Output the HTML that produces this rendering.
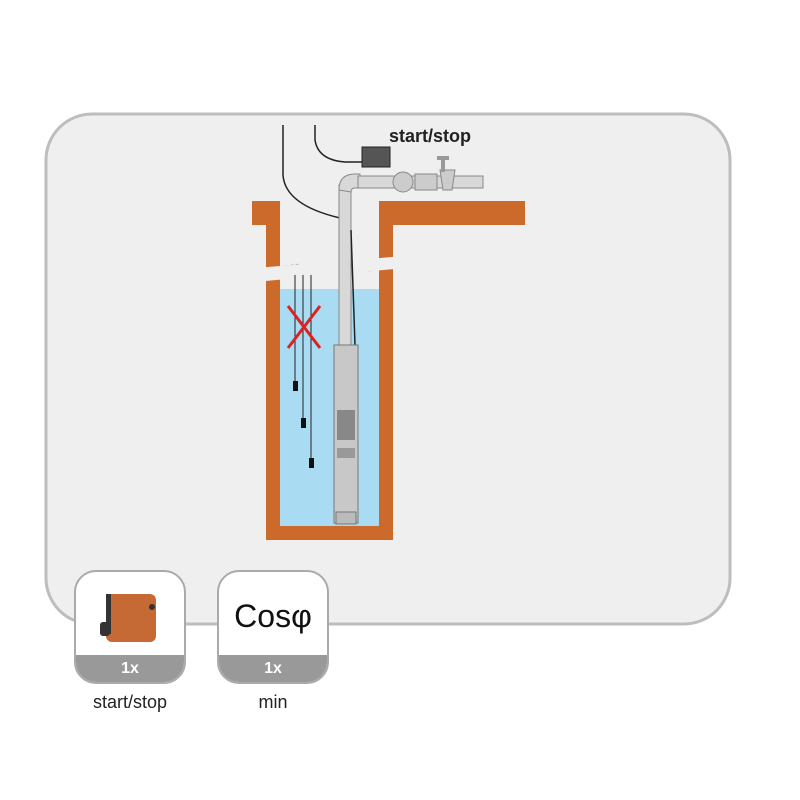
<!DOCTYPE html>
<html><head><style>
body{margin:0;width:800px;height:800px;background:#fff;font-family:"Liberation Sans",sans-serif;position:relative;overflow:hidden}
.card{position:absolute;width:108px;height:110px;border:2px solid #aaa;border-radius:22px;background:#fff;overflow:hidden;top:570px}
.band{position:absolute;left:0;right:0;bottom:0;height:27px;background:#999;color:#fff;font-weight:bold;font-size:16px;text-align:center;line-height:27px}
.lbl{position:absolute;top:692px;font-size:18px;color:#222;text-align:center;width:120px}
</style></head><body>
<svg width="800" height="800" style="position:absolute;left:0;top:0">
<rect x="46" y="114" width="684" height="510" rx="46" fill="#efefef" stroke="#bdbdbd" stroke-width="3"/>
<!-- cables -->
<path d="M283 125 V175 Q285 205 340 218" fill="none" stroke="#222" stroke-width="1.5"/>
<path d="M315 125 V140 Q318 160 345 162 H362" fill="none" stroke="#222" stroke-width="1.5"/>
<!-- water -->
<rect x="280" y="289" width="99" height="237" fill="#a9dcf2"/>
<!-- walls -->
<path d="M252 201 H280 V526 H379 V201 H525 V225 H393 V540 H266 V225 H252 Z" fill="#cc6a2c"/>
<!-- break lines -->
<path d="M256 270 L300 264 M256 276 L300 270 M330 266 L365 261 M330 271 L365 266 M368 265 L405 260 M368 271 L405 266" stroke="#aaa" stroke-width="1" stroke-dasharray="3,2"/>
<polygon points="255,268 405,256 405,268 255,282" fill="#efefef"/>
<!-- float cables -->
<line x1="295" y1="275" x2="295" y2="385" stroke="#222"/>
<line x1="303" y1="275" x2="303" y2="422" stroke="#222"/>
<line x1="311" y1="275" x2="311" y2="462" stroke="#222"/>
<rect x="293" y="381" width="5" height="10" fill="#111"/>
<rect x="301" y="418" width="5" height="10" fill="#111"/>
<rect x="309" y="458" width="5" height="10" fill="#111"/>
<path d="M288 306 L320 348 M320 306 L288 348" stroke="#d22" stroke-width="3"/>
<!-- pipe -->
<rect x="339" y="185" width="12" height="162" fill="#d8d8d8" stroke="#888"/>
<path d="M339 190 Q339 174 355 174 H360 V188 H355 Q351 188 351 192 Z" fill="#d8d8d8" stroke="#888"/>
<rect x="358" y="176" width="125" height="12" fill="#d8d8d8" stroke="#888"/>
<ellipse cx="403" cy="182" rx="10" ry="10" fill="#ccc" stroke="#888"/>
<rect x="415" y="174" width="22" height="16" fill="#ccc" stroke="#888"/>
<path d="M440 170 H455 L452 190 H443 Z" fill="#ccc" stroke="#888"/>
<rect x="437" y="156" width="12" height="4" fill="#999"/>
<rect x="441" y="160" width="4" height="12" fill="#999"/>
<rect x="362" y="147" width="28" height="20" fill="#555" stroke="#222"/>
<line x1="351" y1="230" x2="355" y2="345" stroke="#222" stroke-width="1.5"/>
<!-- pump -->
<rect x="334" y="345" width="24" height="178" fill="#c8c8c8" stroke="#777"/>
<rect x="337" y="410" width="18" height="30" fill="#888"/>
<rect x="337" y="448" width="18" height="10" fill="#999"/>
<rect x="336" y="512" width="20" height="12" fill="#bbb" stroke="#777"/>
</svg>
<div style="position:absolute;left:389px;top:126px;font-weight:bold;font-size:18px;color:#222">start/stop</div>
<div class="card" style="left:74px">
<svg width="108" height="84" style="position:absolute;left:0;top:0">
<rect x="30" y="22" width="50" height="48" rx="6" fill="#c56a35"/>
<rect x="24" y="50" width="10" height="14" rx="3" fill="#333"/>
<rect x="30" y="22" width="5" height="40" fill="#333"/>
<circle cx="76" cy="35" r="3" fill="#333"/>
</svg>
<div class="band">1x</div></div>
<div class="card" style="left:217px">
<div style="position:absolute;left:0;right:0;top:26px;text-align:center;font-size:32px;color:#111">Cosφ</div>
<div class="band">1x</div></div>
<div class="lbl" style="left:70px">start/stop</div>
<div class="lbl" style="left:213px">min</div>
</body></html>
